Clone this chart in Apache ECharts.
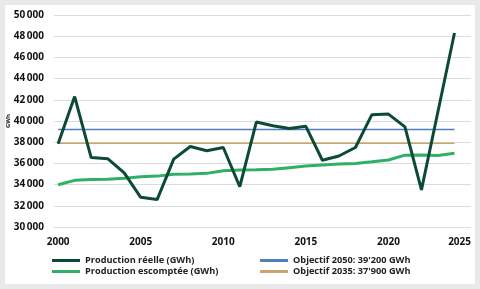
<!DOCTYPE html>
<html>
<head>
<meta charset="utf-8">
<script src="https://cdn.jsdelivr.net/npm/echarts@6/dist/echarts.min.js"></script>
<style>
  html, body { margin: 0; padding: 0; background: #e9e9e9; }
  #chart { width: 480px; height: 289px; box-sizing: border-box; border: 5px solid #e9e9e9; background: #fff; }
</style>
</head>
<body>
<div id="chart"></div>
<script>
// years 2000..2024
const years = [2000, 2001, 2002, 2003, 2004, 2005, 2006, 2007, 2008, 2009, 2010, 2011, 2012,
  2013, 2014, 2015, 2016, 2017, 2018, 2019, 2020, 2021, 2022, 2023, 2024]
const reelle = [37850, 42300, 36550, 36450, 35100, 32800, 32600, 36400, 37600, 37200, 37500, 33800, 39900,
  39550, 39300, 39500, 36300, 36700, 37500, 40600, 40650, 39450, 33500, 40900, 48300]
const escomptee = [33980, 34400, 34480, 34500, 34600, 34750, 34800, 34970, 35000, 35060, 35300, 35380, 35400,
  35450, 35600, 35750, 35850, 35940, 36000, 36150, 36320, 36780, 36800, 36750, 36950]
const objectif2050 = 39200
const objectif2035 = 37900
const xTicks = [2000, 2005, 2010, 2015, 2020, 2025]

const names = ['Production réelle (GWh)', 'Production escomptée (GWh)', 'Objectif 2050: 39\'200 GWh', 'Objectif 2035: 37\'900 GWh']
const font = 'Open Sans'

const legendBase = {
  top: 251,
  height: 30,
  padding: 0,
  orient: 'vertical',
  itemWidth: 28,
  itemHeight: 3,
  itemGap: 2,
  icon: 'rect',
  textStyle: { fontFamily: font, fontWeight: 'bold', fontSize: 9.2, color: '#222' }
}

const chart = echarts.init(document.getElementById('chart'))
chart.setOption({
  animation: false,
  textStyle: { fontFamily: font },
  grid: { left: 49, right: 4, top: 10, bottom: 57, outerBoundsMode: 'none' },
  legend: [
    Object.assign({}, legendBase, { left: 47, data: [names[0], names[1]] }),
    Object.assign({}, legendBase, { left: 255, data: [names[2], names[3]] })
  ],
  xAxis: {
    type: 'value',
    min: 1999.75,
    max: 2025,
    axisLine: { show: false },
    axisTick: { show: false },
    splitLine: { show: false },
    axisLabel: {
      customValues: xTicks,
      alignMaxLabel: 'right',
      margin: 10,
      fontFamily: font,
      fontWeight: 'bold',
      fontSize: 10,
      color: '#111',
      formatter: v => String(v)
    }
  },
  yAxis: {
    type: 'value',
    min: 30000,
    max: 50000,
    interval: 2000,
    name: 'GWh',
    nameLocation: 'middle',
    nameRotate: 90,
    nameGap: 43,
    nameMoveOverlap: false,
    nameTextStyle: { fontSize: 6, fontWeight: 'bold', color: '#222', fontFamily: font },
    axisLine: { show: false },
    axisTick: { show: false },
    splitLine: { lineStyle: { color: '#dcdcdc', width: 1 } },
    axisLabel: {
      margin: 10,
      fontFamily: font,
      fontWeight: 'bold',
      fontSize: 10,
      color: '#111',
      formatter: v => String(v).replace(/(\d\d)(\d\d\d)$/, '$1\u2009$2')
    }
  },
  series: [{
    name: names[2],
    type: 'line',
    color: '#4f7fbd',
    showSymbol: false,
    lineStyle: { width: 1.4, color: '#4f7fbd' },
    data: years.map(y => [y, objectif2050])
  }, {
    name: names[3],
    type: 'line',
    color: '#c9a66c',
    showSymbol: false,
    lineStyle: { width: 1.4, color: '#c9a66c' },
    data: years.map(y => [y, objectif2035])
  }, {
    name: names[1],
    type: 'line',
    color: '#2fb067',
    showSymbol: false,
    lineStyle: { width: 3, color: '#2fb067' },
    data: years.map((y, i) => [y, escomptee[i]])
  }, {
    name: names[0],
    type: 'line',
    color: '#0c4a37',
    showSymbol: false,
    lineStyle: { width: 3, color: '#0c4a37' },
    data: years.map((y, i) => [y, reelle[i]])
  }]
})
</script>
</body>
</html>
